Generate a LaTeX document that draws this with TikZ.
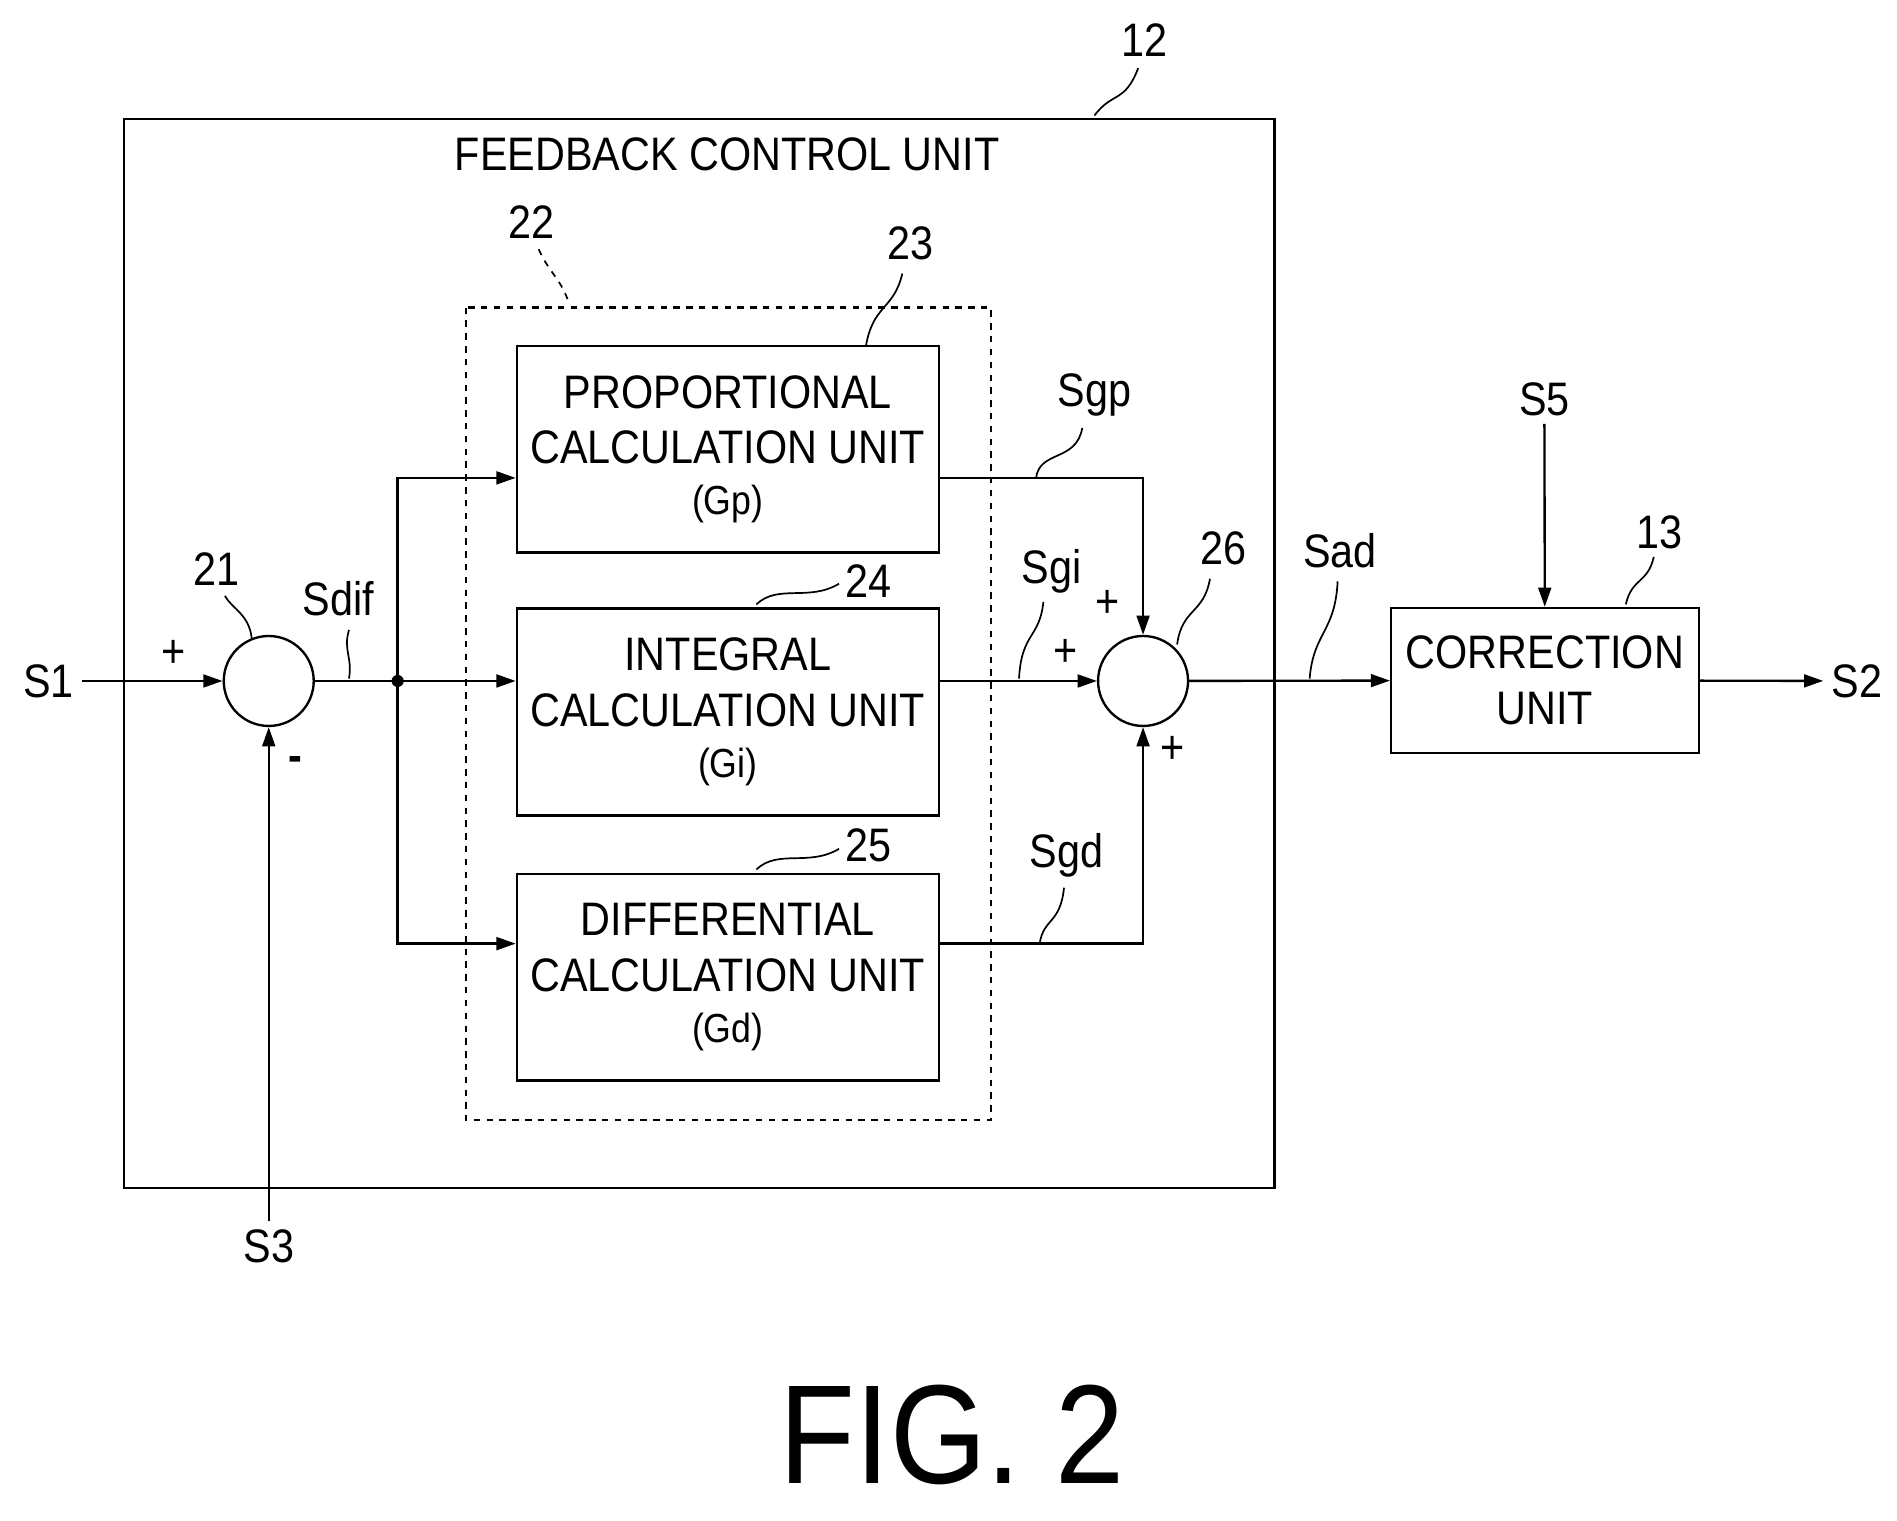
\documentclass[tikz,border=0pt]{standalone}
\usepackage{fontspec}
\setmainfont[FakeStretch=0.88]{Liberation Sans}
\usetikzlibrary{arrows.meta,positioning}

\begin{document}
\begin{tikzpicture}[x=0.02cm,y=-0.02cm,line width=1.1pt,>={Triangle[length=9pt,width=6pt]},
	every node/.style={font=\fontsize{22}{26}\selectfont},
	blk/.style={draw,align=center,minimum width=6.94cm,minimum height=3.4cm,inner sep=0pt},
	sumc/.style={draw,circle,minimum size=1.48cm,inner sep=0pt},
	lead/.style={line width=0.8pt}]
	\useasboundingbox (0,0) rectangle (1560,1250);
	% outer unit and group
	\draw (102,98) rectangle (1048,977);
	\node (fcu) at (598,127) {FEEDBACK CONTROL UNIT};
	\node (n12) at (941,33) {12};
	\draw[lead] (900,95) .. controls (915,75) and (925,85) .. (936,56);
	\draw[dashed] (383,253) rectangle (815,921);
	\node (n22) at (437,183) {22};
	\draw[lead,dashed] (443,205) .. controls (452,225) and (462,230) .. (468,250);
	% blocks
	\node[blk] (prop) at (598.5,369.5) {PROPORTIONAL\\CALCULATION UNIT\\[-2pt]{\fontsize{19}{22}\selectfont(Gp)}};
	\node[blk] (intg) at (598.5,585.5) {INTEGRAL\\CALCULATION UNIT\\[-2pt]{\fontsize{19}{22}\selectfont(Gi)}};
	\node[blk] (diff) at (598.5,803.5) {DIFFERENTIAL\\CALCULATION UNIT\\[-2pt]{\fontsize{19}{22}\selectfont(Gd)}};
	\node (n23) at (749,200) {23};
	\draw[lead] (712,285) .. controls (718,250) and (735,255) .. (742,225);
	\node (n24) at (714,478) {24};
	\draw[lead] (622,497) .. controls (640,480) and (665,495) .. (690,480);
	\node (n25) at (714,695) {25};
	\draw[lead] (622,715) .. controls (640,698) and (665,713) .. (690,698);
	% summing points
	\node[sumc] (sum1) at (221,560) {};
	\node[sumc] (sum2) at (940,560) {};
	\node (n21) at (178,468) {21};
	\draw[lead] (207,525) .. controls (205,505) and (190,500) .. (185,490);
	\node (n26) at (1006,451) {26};
	\draw[lead] (968,530) .. controls (972,500) and (990,505) .. (995,476);
	% inputs
	\node (s1) at (40,560) {S1};
	\node (s3) at (221,1025) {S3};
	\draw[->] (s1) -- (sum1);
	\draw[->] (s3) -- (sum1);
	\node at (143,538) {+};
	\node at (243,628) {\textbf{-}};
	\coordinate (jn) at (327,560);
	\fill (jn) circle (5);
	\draw (sum1) -- (jn);
	\draw[->] (jn) -- (jn -| intg.west);
	\draw[->] (jn) |- (prop.west |- 0,393);
	\draw[->] (jn) |- (diff.west |- 0,776);
	\node (sdif) at (278,492) {Sdif};
	\draw[lead] (287,558) .. controls (290,540) and (282,535) .. (287,518);
	% outputs of blocks
	\draw[->] (prop.east |- 0,393) -| (sum2);
	\draw[->] (sum2 -| intg.east) -- (sum2);
	\draw[->] (diff.east |- 0,776) -| (sum2);
	\node (sgp) at (900,325) {Sgp};
	\draw[lead] (852,393) .. controls (855,370) and (885,380) .. (890,352);
	\node (sgi) at (865,470) {Sgi};
	\draw[lead] (838,558) .. controls (840,520) and (855,525) .. (858,495);
	\node (sgd) at (877,703) {Sgd};
	\draw[lead] (855,776) .. controls (858,755) and (872,760) .. (875,730);
	\node at (911,497) {+};
	\node at (876,537) {+};
	\node at (964,617) {+};
	% correction
	\node[draw,align=center,minimum width=5.06cm,minimum height=2.38cm,inner sep=0pt] (corr) at (1270.5,559.5) {CORRECTION\\UNIT};
	\node (n13) at (1365,438) {13};
	\draw[lead] (1337,497) .. controls (1342,475) and (1355,480) .. (1360,458);
	\draw[->] (sum2) -- (corr);
	\node (sad) at (1102,453) {Sad};
	\draw[lead] (1077,558) .. controls (1080,520) and (1098,520) .. (1100,478);
	\node (s5) at (1270,328) {S5};
	\draw[->] (s5) -- (corr);
	\node (s2) at (1527,560) {S2};
	\draw[->] (corr) -- (s2);
	\node[font=\fontsize{66}{72}\selectfont] (fig) at (783,1180) {FIG. 2};
\end{tikzpicture}
\end{document}
